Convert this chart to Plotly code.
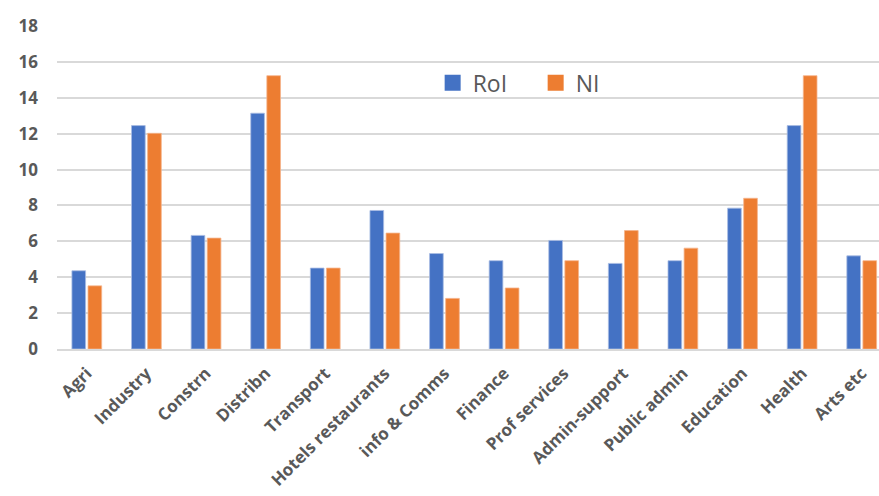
import plotly.graph_objects as go

categories = ["Agri", "Industry", "Constrn", "Distribn", "Transport", "Hotels restaurants",
              "info & Comms", "Finance", "Prof services", "Admin-support", "Public admin",
              "Education", "Health", "Arts etc"]
roi = [4.36, 12.45, 6.33, 13.14, 4.51, 7.72, 5.32, 4.92, 6.05, 4.77, 4.92, 7.85, 12.45, 5.19]
ni = [3.52, 12.02, 6.18, 15.23, 4.51, 6.46, 2.82, 3.40, 4.92, 6.60, 5.62, 8.40, 15.23, 4.92]
y_ticks = [0, 2, 4, 6, 8, 10, 12, 14, 16, 18]

BLUE = "#4472C4"
ORANGE = "#ED7D31"
GRAY = "#595959"

xs = list(range(len(categories)))
fig = go.Figure()
fig.add_trace(go.Bar(x=xs, y=roi, name="RoI", showlegend=False,
                     marker=dict(color=BLUE, line=dict(color="#a9bde3", width=0.8))))
fig.add_trace(go.Bar(x=xs, y=ni, name="NI", showlegend=False,
                     marker=dict(color=ORANGE, line=dict(color="#f5b48c", width=0.8))))
# legend entries with larger square swatches
for name, col in [("RoI", BLUE), ("NI", ORANGE)]:
    fig.add_trace(go.Scatter(x=[None], y=[None], mode="markers", name=name,
                             marker=dict(symbol="square", size=16, color=col)))

fig.update_layout(
    width=879, height=496,
    margin=dict(l=57, r=0, t=26, b=147, autoexpand=False),
    paper_bgcolor="white", plot_bgcolor="white",
    barmode="group", bargap=0.46, bargroupgap=0.15,
    font=dict(family="Open Sans, Liberation Sans, sans-serif", color=GRAY),
    legend=dict(orientation="h", x=0.457, y=0.824, xanchor="left", yanchor="middle",
                font=dict(size=23, color=GRAY), bgcolor="rgba(0,0,0,0)",
                itemwidth=30, entrywidth=58),
    showlegend=True,
)
fig.update_xaxes(
    tickmode="array", tickvals=xs, ticktext=categories,
    range=[-0.5, 13.29], tickangle=-45, automargin=False,
    tickfont=dict(size=17, color=GRAY, family="Open Sans, sans-serif", weight="bold"),
    showgrid=False, showline=True, linecolor="#d9d9d9", linewidth=1.5,
    ticks="", zeroline=False, ticklabelstandoff=6,
)
fig.update_yaxes(
    range=[0, 18], tickmode="array", tickvals=y_ticks, automargin=False,
    tickfont=dict(size=17, color=GRAY, family="Open Sans, sans-serif", weight="bold"),
    showgrid=True, gridcolor="#d9d9d9", gridwidth=1.5,
    zeroline=False, showline=False, ticks="", ticklabelstandoff=18,
)

fig.write_html("out.html")
